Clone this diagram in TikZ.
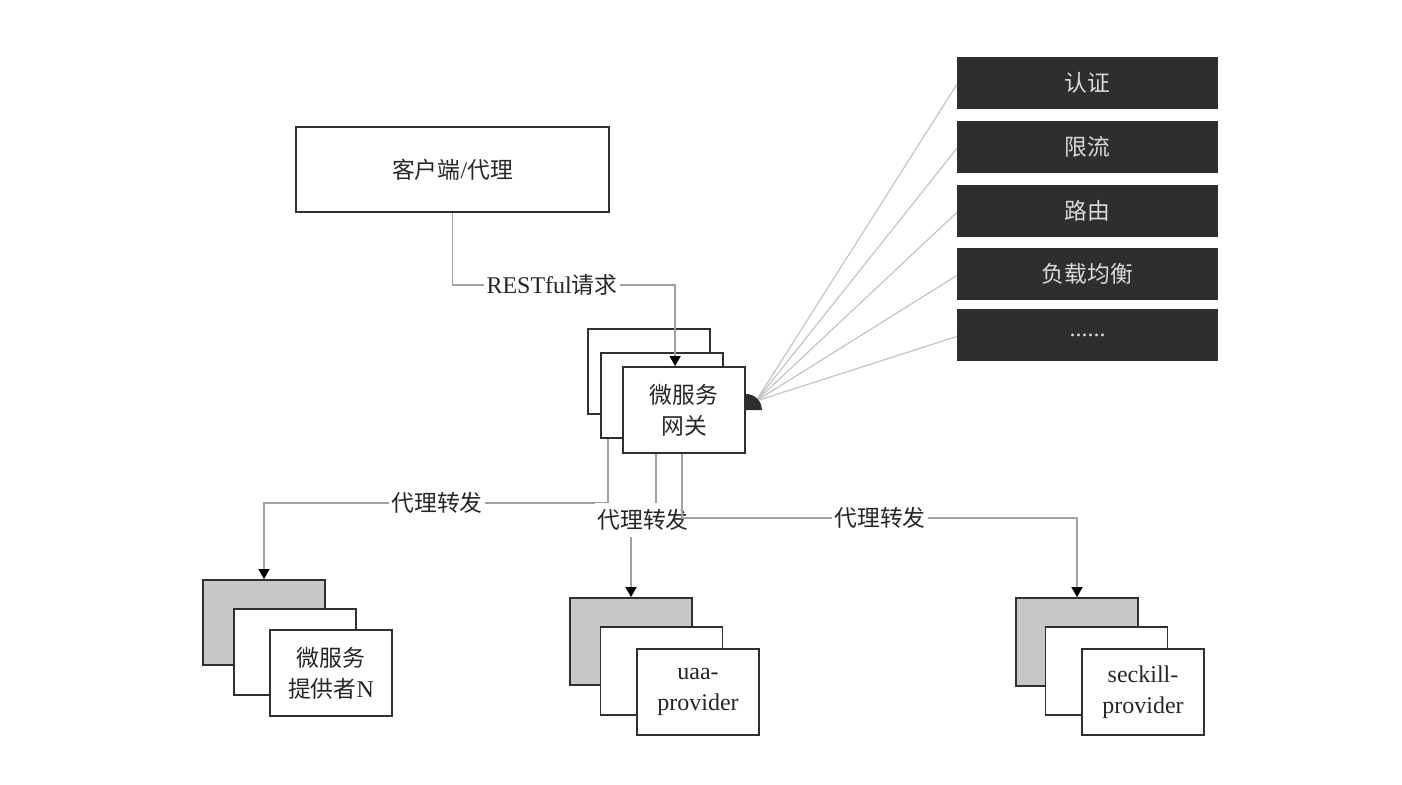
\documentclass[tikz,border=0pt]{standalone}
\usepackage{fontspec}
\setmainfont{Liberation Serif}
\newfontfamily\cjk[Scale=0.95]{Noto Sans CJK SC}
\usetikzlibrary{arrows.meta,calc}
\definecolor{boxline}{HTML}{303030}
\definecolor{connline}{HTML}{A0A0A0}
\definecolor{fanline}{HTML}{C4C4C4}
\definecolor{darkbox}{HTML}{2E2E2E}
\definecolor{darktext}{HTML}{DADADA}
\definecolor{backfill}{HTML}{C8C8C8}
\begin{document}
\begin{tikzpicture}[x=1pt,y=-1pt,
  txt/.style={font=\fontsize{24}{31}\selectfont,text=black!85},
  box/.style={txt,draw=boxline,line width=1.8pt,fill=white,minimum width=122pt,minimum height=86pt,inner sep=0pt,align=center},
  backbox/.style={box,fill=backfill},
  darkitem/.style={txt,fill=darkbox,text=darktext,minimum width=261pt,minimum height=52pt,inner sep=0pt},
  lbl/.style={txt,fill=white,inner xsep=2pt,inner ysep=3pt},
  conn/.style={draw=connline,line width=1.3pt},
  fan/.style={draw=fanline,line width=1.2pt},
  tip/.style={-{Triangle[width=11pt,length=10pt,color=black]}}
]
\useasboundingbox (0,0) rectangle (1402,784);

% client
\node[box,minimum width=313pt,minimum height=85pt] (client) at (452.5,169.5) {{\cjk 客户端}/{\cjk 代理}};

% gateway stack
\node[box,minimum height=85pt] (gwb) at (649,371.5) {};
\node[box,minimum height=85pt] (gwm) at (662,395.5) {};
\node[box,minimum height=86pt] (gwf) at (684,410) {{\cjk 微服务}\\{\cjk 网关}};

% RESTful request
\node[lbl] (rest) at (552,285) {RESTful{\cjk 请求}};
\draw[conn] (client.south) |- (rest.west);
\draw[conn,tip] (rest.east) -| ($(gwf.north west)+(53,0)$);

% filter boxes
\node[darkitem] (f1) at (1087.5,83) {{\cjk 认证}};
\node[darkitem] (f2) at (1087.5,147) {{\cjk 限流}};
\node[darkitem] (f3) at (1087.5,211) {{\cjk 路由}};
\node[darkitem] (f4) at (1087.5,274) {{\cjk 负载均衡}};
\node[darkitem] (f5) at (1087.5,335) {......};

\coordinate (hub) at (756,401);
\foreach \f in {f1,f2,f3,f4,f5} {\draw[fan] (hub) -- ($(\f.west)+(0,1.5)$);}
\fill[darkbox] (gwf.east |- 0,410) -- ++(0,-16) arc[start angle=90,end angle=0,radius=16pt] -- cycle;

% left stack
\node[backbox,minimum height=85pt] (lb) at (264,622.5) {};
\node[box,minimum height=86pt] (lm) at (295,652) {};
\node[box,minimum height=86pt] (lf) at (331,673) {{\cjk 微服务}\\{\cjk 提供者}N};

% middle stack
\node[backbox,minimum height=87pt] (mb) at (631,641.5) {};
\node[box,minimum height=88pt] (mm) at (661.5,671) {};
\node[box,minimum height=86pt] (mf) at (698,692) {uaa-\\provider};

% right stack
\node[backbox,minimum height=88pt] (rb) at (1077,642) {};
\node[box,minimum height=88pt] (rm) at (1106.5,671) {};
\node[box,minimum height=86pt] (rf) at (1143,692) {seckill-\\provider};

% forwarding connectors
\node[lbl] (fw1) at (437,503) {{\cjk 代理转发}};
\draw[conn] ($(gwm.south west)+(8,0)$) |- (fw1.east);
\draw[conn,tip] (fw1.west) -| (lb.north);

\draw[conn,tip] ($(gwf.south west)+(34,0)$) |- (643,520) -| (mb.north);
\node[lbl,minimum height=34pt] (fw2) at (643,520) {{\cjk 代理转发}};

\node[lbl] (fw3) at (880,518) {{\cjk 代理转发}};
\draw[conn] ($(gwf.south west)+(60,0)$) |- (fw3.west);
\draw[conn,tip] (fw3.east) -| (rb.north);
\end{tikzpicture}
\end{document}
